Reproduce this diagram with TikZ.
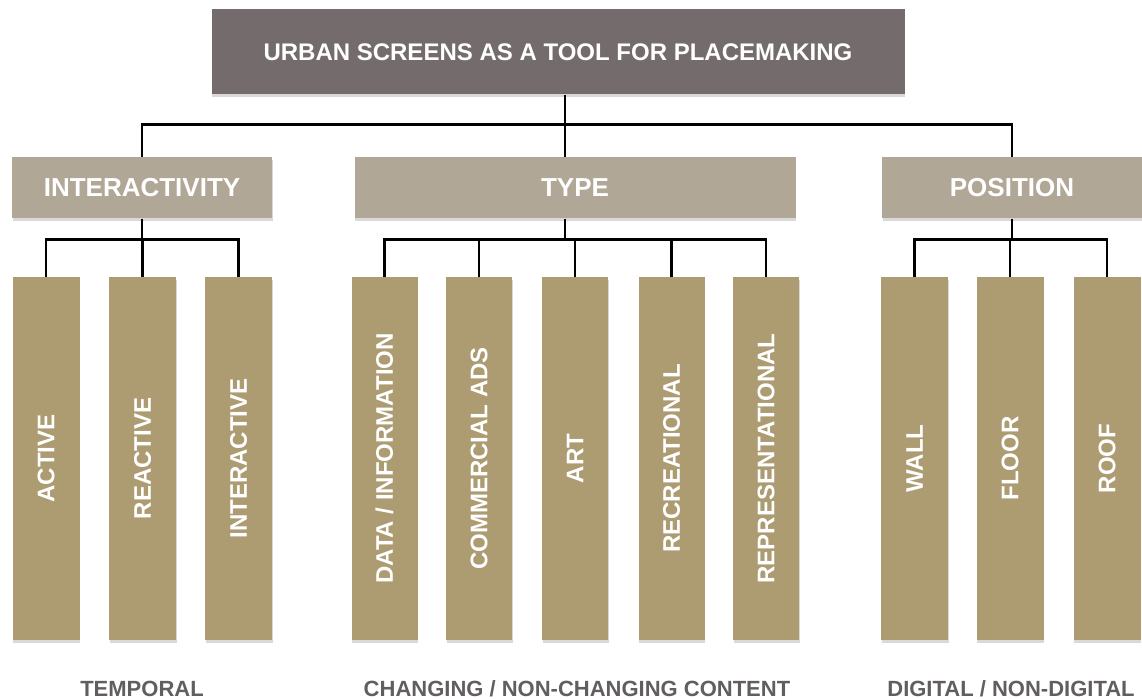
\documentclass[tikz,border=0pt]{standalone}
\usepackage{fontspec}
\setmainfont{Liberation Sans}
\usepackage{tikz}
\usetikzlibrary{calc,shadows}

\definecolor{titlegray}{HTML}{746C6C}
\definecolor{groupgray}{HTML}{B1A797}
\definecolor{columnbrown}{HTML}{AD9B72}
\definecolor{notegray}{HTML}{635E5E}

\begin{document}
\begin{tikzpicture}[x=0.5pt, y=-0.5pt,
    titlebox/.style={fill=titlegray, text=white, inner sep=0pt,
        minimum width=346.5pt, minimum height=42.5pt,
        font=\bfseries\fontsize{12}{14}\selectfont,
        drop shadow={shadow xshift=0.4pt, shadow yshift=-1.2pt, opacity=0.3}},
    groupbox/.style={fill=groupgray, text=white, inner sep=0pt,
        minimum width=130pt, minimum height=30.5pt,
        font=\bfseries\fontsize{13}{15}\selectfont,
        drop shadow={shadow xshift=0.4pt, shadow yshift=-1.2pt, opacity=0.3}},
    columnbox/.style={fill=columnbrown, text=white, inner sep=0pt, rotate=90,
        minimum width=181.5pt, minimum height=33.5pt,
        font=\bfseries\fontsize{12}{14}\selectfont,
        drop shadow={shadow xshift=0.3pt, shadow yshift=-1.4pt, opacity=0.3}},
    notelabel/.style={text=notegray, anchor=base,
        font=\bfseries\fontsize{11}{13}\selectfont},
    branch/.style={line width=1.4pt}]

    \useasboundingbox (0,0) rectangle (1142,699);

    % title and the three groups
    \node[titlebox] (root) at (558,52) {URBAN SCREENS AS A TOOL FOR PLACEMAKING};

    \node[groupbox] (interactivity) at (142,188) {INTERACTIVITY};
    \node[groupbox, minimum width=220.5pt] (type) at (575,188) {TYPE};
    \node[groupbox] (position) at (1012,188) {POSITION};

    % columns
    \node[columnbox] (active) at (46,458.5) {ACTIVE};
    \node[columnbox] (reactive) at (142.5,458.5) {REACTIVE};
    \node[columnbox] (interactive) at (238.5,458.5) {INTERACTIVE};

    \node[columnbox, minimum height=33pt] (data) at (384.5,458.5) {DATA / INFORMATION};
    \node[columnbox, minimum height=33pt] (commercial) at (479,458.5) {COMMERCIAL ADS};
    \node[columnbox, minimum height=33pt] (art) at (575,458.5) {ART};
    \node[columnbox, minimum height=33pt] (recreational) at (671.5,458.5) {RECREATIONAL};
    \node[columnbox, minimum height=33pt] (representational) at (766,458.5) {REPRESENTATIONAL};

    \node[columnbox] (wall) at (914.5,458.5) {WALL};
    \node[columnbox] (floor) at (1010,458.5) {FLOOR};
    \node[columnbox] (roof) at (1107,458.5) {ROOF};

    % notes under the groups
    \node[notelabel] (temporal) at (142,697) {TEMPORAL};
    \node[notelabel] (changing) at (577,697) {CHANGING / NON-CHANGING CONTENT};
    \node[notelabel] (digital) at (1011,697) {DIGITAL / NON-DIGITAL};

    % connectors from the title
    \coordinate (hub) at ($(root.south)+(7,30)$);
    \draw[branch] (hub |- root.south) -- (hub);
    \draw[branch] (hub) -| (interactivity.north);
    \draw[branch] (hub) -| (position.north);
    \draw[branch] (hub) -- (hub |- type.north);

    % connectors to the columns
    \draw[branch] (interactivity.south) -- ++(0,21) coordinate (interfork);
    \foreach \leaf in {active,reactive,interactive}
        \draw[branch] (interfork) -| (\leaf.east);

    \draw[branch] (hub |- type.south) -- ++(0,21) coordinate (typefork);
    \foreach \leaf in {data,commercial,art,recreational,representational}
        \draw[branch] (typefork) -| (\leaf.east);

    \draw[branch] (position.south) -- ++(0,21) coordinate (posfork);
    \foreach \leaf in {wall,floor,roof}
        \draw[branch] (posfork) -| (\leaf.east);

\end{tikzpicture}
\end{document}
